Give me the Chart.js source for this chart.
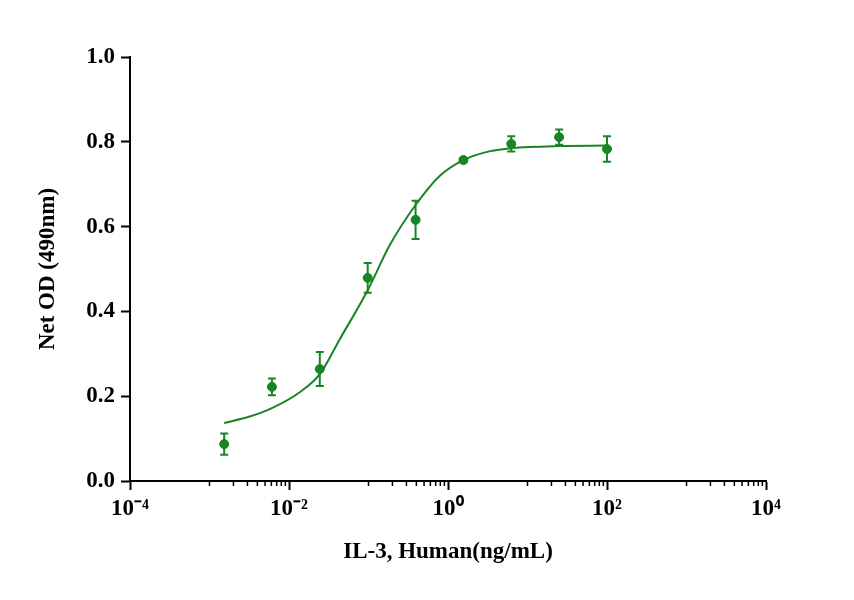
<!DOCTYPE html>
<html><head><meta charset="utf-8">
<script src="https://cdn.jsdelivr.net/npm/chart.js@4"></script>
<style>body{margin:0;background:#fff}</style></head>
<body><canvas id="c" width="854" height="600"></canvas>
<script>
const conc = [0.00153, 0.0061, 0.0244, 0.0977, 0.391, 1.5625, 6.25, 25, 100];
const meanOD = [0.087, 0.222, 0.264, 0.479, 0.616, 0.757, 0.795, 0.811, 0.783];
const errOD = [0.025, 0.02, 0.04, 0.035, 0.045, 0.005, 0.018, 0.018, 0.03];
const fitX = [0.00153, 0.0032, 0.0061, 0.0138, 0.0244, 0.0437, 0.0977, 0.186, 0.391, 0.79, 1.5625, 3.4, 6.25, 25, 100];
const fitY = [0.137, 0.152, 0.172, 0.21, 0.252, 0.335, 0.45, 0.557, 0.651, 0.72, 0.757, 0.778, 0.785, 0.79, 0.791];
const xMajor = [1e-4, 1e-2, 1, 1e2, 1e4];
const xMajorLabels = ['10⁻⁴', '10⁻²', '10⁰', '10²', '10⁴'];
const yTicks = [0, 0.2, 0.4, 0.6, 0.8, 1.0];

const green = 'rgb(24,132,36)';
const font = {family: 'Liberation Serif', weight: 'bold', size: 23};

const extras = {
  id: 'extras',
  afterDatasetsDraw(chart) {
    const ctx = chart.ctx, x = chart.scales.x, y = chart.scales.y;
    ctx.save();
    ctx.strokeStyle = green; ctx.lineWidth = 2;
    conc.forEach((c, i) => {
      const px = x.getPixelForValue(c);
      const y1 = y.getPixelForValue(meanOD[i] + errOD[i]);
      const y2 = y.getPixelForValue(meanOD[i] - errOD[i]);
      ctx.beginPath();
      ctx.moveTo(px, y1); ctx.lineTo(px, y2);
      ctx.moveTo(px - 4, y1); ctx.lineTo(px + 4, y1);
      ctx.moveTo(px - 4, y2); ctx.lineTo(px + 4, y2);
      ctx.stroke();
    });
    ctx.strokeStyle = '#000'; ctx.lineWidth = 1.5;
    const base = y.bottom;
    [-4, -2, 0, 2].forEach(e => {
      for (let k = 1; k <= 9; k++) {
        const v = k * Math.pow(10, e + 1);
        const px = x.getPixelForValue(v);
        ctx.beginPath(); ctx.moveTo(px, base); ctx.lineTo(px, base + 5); ctx.stroke();
      }
    });
    ctx.restore();
  }
};

new Chart(document.getElementById('c'), {
  data: {
    datasets: [
      {type: 'line', data: fitX.map((v, i) => ({x: v, y: fitY[i]})), borderColor: green, borderWidth: 2,
       pointRadius: 0, cubicInterpolationMode: 'monotone', fill: false},
      {type: 'scatter', data: conc.map((v, i) => ({x: v, y: meanOD[i]})), backgroundColor: green,
       borderColor: green, pointRadius: 4.5}
    ]
  },
  options: {
    responsive: false, devicePixelRatio: 1, animation: false,
    layout: {padding: {top: 57, right: 88, left: 0, bottom: 0}},
    plugins: {legend: {display: false}, tooltip: {enabled: false}},
    scales: {
      x: {
        type: 'logarithmic', min: 1e-4, max: 1e4,
        afterBuildTicks: s => { s.ticks = xMajor.map(v => ({value: v})); },
        afterFit: s => { s.height = 119; },
        ticks: {color: '#000', font: font, padding: 5, maxRotation: 0, autoSkip: false,
          callback: (v) => { const i = xMajor.findIndex(m => Math.abs(Math.log10(m) - Math.log10(v)) < 1e-6); return i >= 0 ? xMajorLabels[i] : ''; }},
        grid: {drawOnChartArea: false, tickLength: 9, tickWidth: 2, tickColor: '#000'},
        border: {color: '#000', width: 2},
        title: {display: true, text: 'IL-3, Human(ng/mL)', color: '#000', font: font, padding: {top: 0, bottom: 34}}
      },
      y: {
        min: 0, max: 1.0,
        afterBuildTicks: s => { s.ticks = yTicks.map(v => ({value: v})); },
        afterFit: s => { s.width = 130; },
        ticks: {color: '#000', font: font, padding: 6, callback: v => v.toFixed(1)},
        grid: {drawOnChartArea: false, tickLength: 9, tickWidth: 2, tickColor: '#000'},
        border: {color: '#000', width: 2},
        title: {display: true, text: 'Net OD (490nm)', color: '#000', font: font, padding: {top: 34, bottom: 0}}
      }
    }
  },
  plugins: [extras]
});
</script></body></html>
